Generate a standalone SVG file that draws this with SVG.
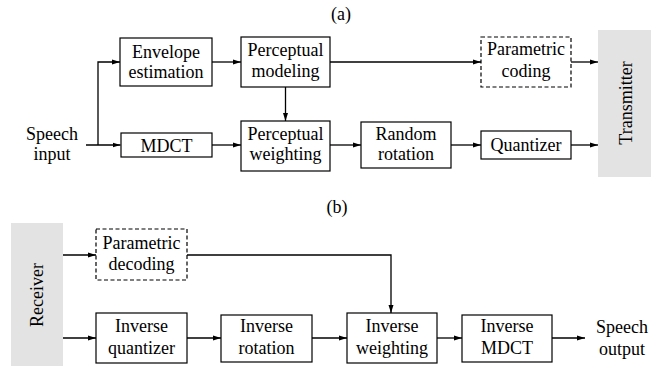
<svg xmlns="http://www.w3.org/2000/svg" width="656" height="366" viewBox="0 0 656 366">
<defs>
<style>
.box{fill:#fff;stroke:#000;stroke-width:1.2}
.dash{fill:#fff;stroke:#000;stroke-width:1.2;stroke-dasharray:4 2.5}
.gray{fill:#e3e3e3;stroke:none}
.c{fill:none;stroke:#000;stroke-width:1.3}
</style>
<marker id="ah" markerWidth="8" markerHeight="6" refX="8" refY="3" orient="auto" markerUnits="userSpaceOnUse">
<path d="M0,0.5 L8,3 L0,5.5 Z" fill="#000"/>
</marker>
</defs>
<rect width="656" height="366" fill="#fff"/>
<g font-family="Liberation Serif" font-size="18" text-anchor="middle" fill="#000">
<text x="341" y="20">(a)</text>
<text x="337" y="213">(b)</text>
<g id="speech-input"><text x="52" y="140">Speech</text><text x="52" y="160">input</text></g>
<g id="envelope"><rect class="box" x="120" y="38" width="92" height="48"/><text x="166" y="58">Envelope</text><text x="166" y="78">estimation</text></g>
<g id="perc-model"><rect class="box" x="241" y="37" width="89" height="50"/><text x="285.5" y="56">Perceptual</text><text x="285.5" y="77">modeling</text></g>
<g id="param-coding"><rect class="dash" x="481" y="37" width="90" height="50"/><text x="526" y="55">Parametric</text><text x="526" y="77">coding</text></g>
<g id="transmitter"><rect class="gray" x="598" y="30" width="53" height="147"/><text transform="translate(632,103) rotate(-90)">Transmitter</text></g>
<g id="mdct"><rect class="box" x="121" y="133" width="91" height="24"/><text x="166.5" y="151.5">MDCT</text></g>
<g id="perc-weight"><rect class="box" x="241" y="121" width="89" height="50"/><text x="285.5" y="139.5">Perceptual</text><text x="285.5" y="159.5">weighting</text></g>
<g id="random-rot"><rect class="box" x="361" y="122" width="90" height="46"/><text x="406" y="139.5">Random</text><text x="406" y="160">rotation</text></g>
<g id="quantizer"><rect class="box" x="481" y="131" width="90" height="28"/><text x="526" y="151">Quantizer</text></g>
<g id="receiver"><rect class="gray" x="11" y="223" width="52" height="143"/><text transform="translate(43,295) rotate(-90)">Receiver</text></g>
<g id="param-decoding"><rect class="dash" x="96" y="229" width="91" height="51"/><text x="141.5" y="248.5">Parametric</text><text x="141.5" y="269.5">decoding</text></g>
<g id="inv-quant"><rect class="box" x="96" y="313" width="91" height="50"/><text x="141.5" y="332">Inverse</text><text x="141.5" y="353.5">quantizer</text></g>
<g id="inv-rot"><rect class="box" x="221" y="315" width="91" height="47"/><text x="266.5" y="332">Inverse</text><text x="266.5" y="353.5">rotation</text></g>
<g id="inv-weight"><rect class="box" x="347" y="313" width="90" height="50"/><text x="392" y="332">Inverse</text><text x="392" y="353.5">weighting</text></g>
<g id="inv-mdct"><rect class="box" x="462" y="315" width="90" height="47"/><text x="507" y="332">Inverse</text><text x="507" y="353.5">MDCT</text></g>
<g id="speech-output"><text x="622" y="333">Speech</text><text x="622" y="355">output</text></g>
</g>
<g id="connectors">
<path class="c" d="M86,145 H120.5" marker-end="url(#ah)"/>
<path class="c" d="M98,145 V62 H120" marker-end="url(#ah)"/>
<path class="c" d="M212,62 H241" marker-end="url(#ah)"/>
<path class="c" d="M212,145 H241" marker-end="url(#ah)"/>
<path class="c" d="M285.5,87 V121" marker-end="url(#ah)"/>
<path class="c" d="M330,62 H481" marker-end="url(#ah)"/>
<path class="c" d="M571,62 H598" marker-end="url(#ah)"/>
<path class="c" d="M330,145 H361" marker-end="url(#ah)"/>
<path class="c" d="M451,145 H481" marker-end="url(#ah)"/>
<path class="c" d="M571,145 H598" marker-end="url(#ah)"/>
<path class="c" d="M63,255 H96" marker-end="url(#ah)"/>
<path class="c" d="M187,255 H391 V313" marker-end="url(#ah)"/>
<path class="c" d="M63,338 H96" marker-end="url(#ah)"/>
<path class="c" d="M187,338 H221" marker-end="url(#ah)"/>
<path class="c" d="M312,338 H347" marker-end="url(#ah)"/>
<path class="c" d="M437,338 H462" marker-end="url(#ah)"/>
<path class="c" d="M552,338 H585" marker-end="url(#ah)"/>
</g>
</svg>
